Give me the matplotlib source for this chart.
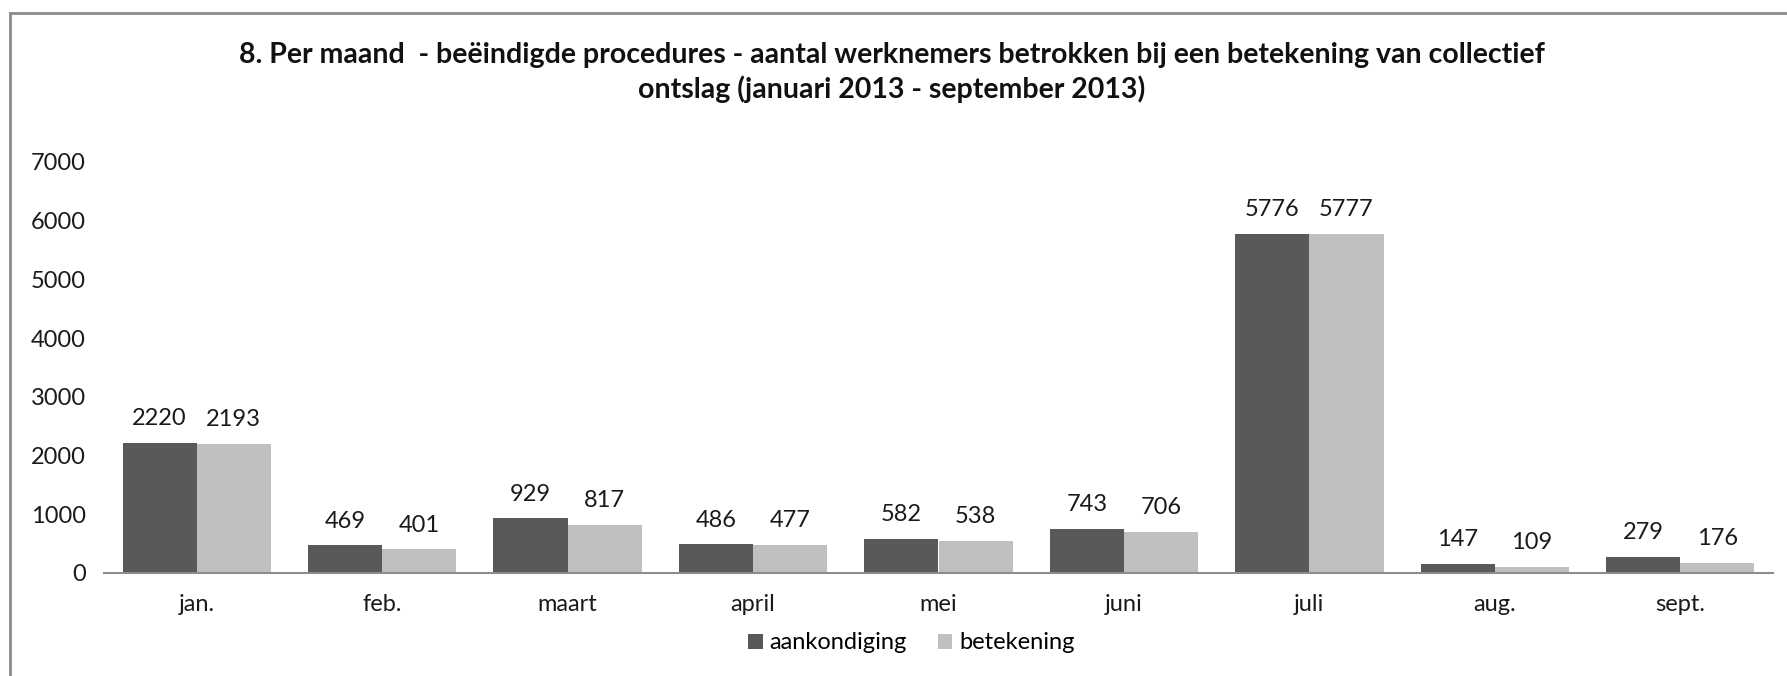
import matplotlib.pyplot as plt
from matplotlib.lines import Line2D
import numpy as np

plt.rcParams['font.family'] = ['Lato', 'DejaVu Sans']

maanden = ["jan.", "feb.", "maart", "april", "mei", "juni", "juli", "aug.", "sept."]
aankondiging = [2220, 469, 929, 486, 582, 743, 5776, 147, 279]
betekening = [2193, 401, 817, 477, 538, 706, 5777, 109, 176]

titel = ("8. Per maand  - beëindigde procedures - aantal werknemers betrokken bij een betekening van collectief\n"
         "ontslag (januari 2013 - september 2013)")

fig = plt.figure(figsize=(17.87, 6.76), dpi=100)
ax = fig.add_axes([104 / 1787, 0.1524, (1773 - 104) / 1787, 0.608])

x = np.arange(len(maanden))
w = 0.4
b1 = ax.bar(x - w / 2, aankondiging, w, color="#595959", label="aankondiging")
b2 = ax.bar(x + w / 2, betekening, w, color="#BFBFBF", label="betekening")

# waarden boven de staven
for bars, vals in [(b1, aankondiging), (b2, betekening)]:
    for bar, v in zip(bars, vals):
        ax.annotate(str(v), (bar.get_x() + bar.get_width() / 2, v),
                    xytext=(0, 10), textcoords="offset points",
                    ha="center", va="bottom", fontsize=17, color="#1a1a1a")

ax.set_xlim(-0.5, len(maanden) - 0.5)
ax.set_ylim(0, 7000)
ax.set_yticks(range(0, 7001, 1000))
ax.set_xticks(x)
ax.set_xticklabels(maanden)
ax.tick_params(axis="both", length=0, labelsize=17, colors="#1a1a1a")
ax.tick_params(axis="y", pad=13)
ax.tick_params(axis="x", pad=15)

for s in ["top", "right", "left"]:
    ax.spines[s].set_visible(False)
ax.spines["bottom"].set_color("#8c8c8c")
ax.spines["bottom"].set_linewidth(1.5)

fig.text(0.499, 0.893, titel, ha="center", va="center", fontsize=20.5,
         fontweight="bold", linespacing=1.3, color="#111111")

fig.legend(handles=[b1, b2], loc="center", bbox_to_anchor=(0.510, 0.049),
           ncol=2, frameon=False, fontsize=17, handlelength=0.6,
           handleheight=0.6, handletextpad=0.3, columnspacing=1.3)

# rand van het kader (links en boven)
fig.add_artist(Line2D([10 / 1787, 10 / 1787], [0, 1 - 13 / 676],
                      transform=fig.transFigure, color="#8c8c8c", lw=2))
fig.add_artist(Line2D([10 / 1787, 1], [1 - 13 / 676, 1 - 13 / 676],
                      transform=fig.transFigure, color="#8c8c8c", lw=2))

fig.savefig("out.png", dpi=100)
